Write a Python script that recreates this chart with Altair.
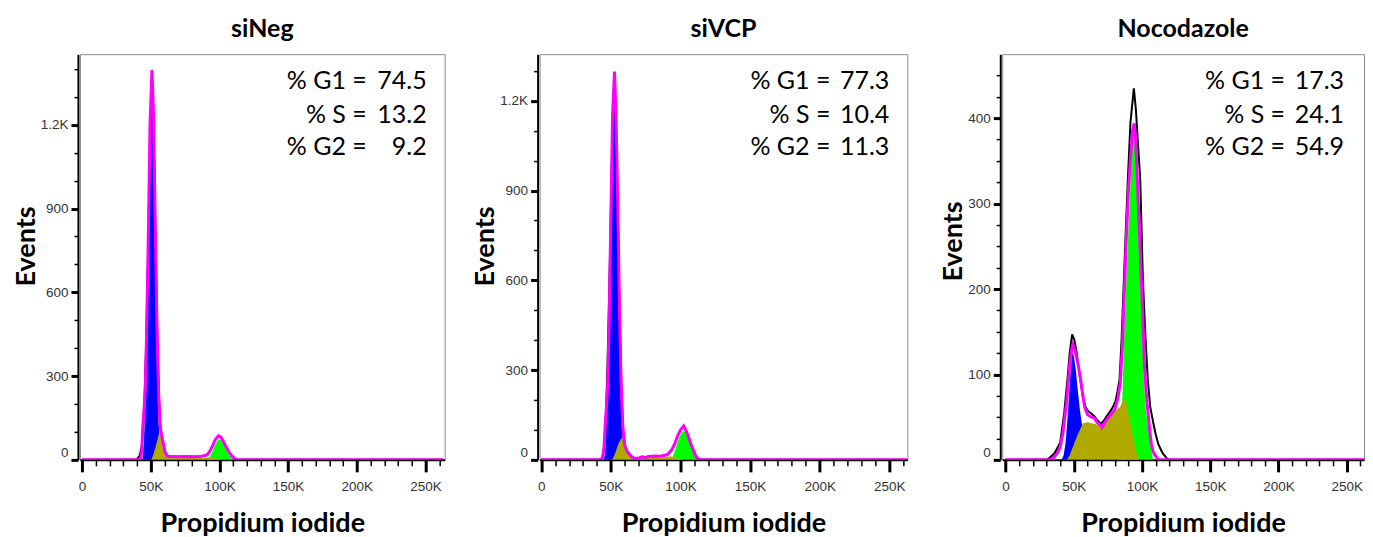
import altair as alt
import pandas as pd

# ---------------- data (x in thousands of PI units, y = events) ----------------
stat_labels = ["% G1 =", "% S =", "% G2 ="]
titles = ["siNeg", "siVCP", "Nocodazole"]

# siNeg
neg_stats = ["74.5", "13.2", "9.2"]
neg_black_x = [0, 39, 40.5, 42, 43.5, 44.5, 45.5, 46.5, 48, 49.5, 50.9, 52.3, 53.5, 54.8, 56, 57, 58, 59.3, 60.5, 62, 63, 66, 70, 75, 80, 85, 88, 91, 93, 95, 97, 99.3, 101, 103, 105, 107, 109, 111, 112.6, 263]
neg_black_y = [0, 0, 5, 15, 50, 120, 220, 380, 700, 1150, 1380, 1150, 800, 450, 230, 125, 88, 58, 28, 16, 13, 12, 11, 12, 11, 12, 14, 18, 30, 50, 72, 86, 82, 65, 45, 28, 14, 5, 0, 0]
neg_mag_x = [0, 42.4, 43.5, 44.1, 45, 46, 47, 48.4, 49.5, 50.9, 52, 53.3, 54.5, 55.7, 56.9, 58, 59.3, 60.5, 62, 63, 66, 70, 75, 80, 85, 88, 91, 93, 95, 97, 99.3, 101, 103, 105, 107, 109, 111, 112.6, 263]
neg_mag_y = [0, 0, 30, 105, 170, 248, 450, 842, 1200, 1396, 1250, 842, 500, 248, 120, 85, 56, 26, 15, 12, 12, 11, 12, 11, 12, 14, 18, 30, 50, 72, 86, 82, 65, 45, 28, 14, 5, 0, 0]
neg_g1_x = [0, 44, 45, 46, 47, 48, 49.2, 50.5, 51.5, 52.5, 53.5, 54.5, 55.5, 56.5, 57.5, 58.5, 263]
neg_g1_y = [0, 0, 60, 180, 380, 700, 1100, 1370, 1300, 1000, 650, 350, 160, 60, 15, 0, 0]
neg_s_x = [0, 50.5, 52, 53.5, 55, 56.2, 57.5, 59, 60.5, 62, 64, 70, 75, 80, 85, 90, 93, 96, 99, 101.7, 263]
neg_s_y = [0, 0, 20, 45, 75, 97, 80, 45, 25, 14, 9, 8, 7, 8, 7, 8, 10, 7, 3, 0, 0]
neg_g2_x = [0, 91, 93, 95, 97, 99.3, 101, 103, 105, 107, 109, 110, 263]
neg_g2_y = [0, 0, 10, 30, 55, 74, 70, 55, 35, 18, 5, 0, 0]

# siVCP
vcp_stats = ["77.3", "10.4", "11.3"]
vcp_black_x = [0, 42.5, 44, 45.5, 46.5, 47.5, 49, 50.5, 52.6, 54.5, 56, 57.5, 58.6, 59.5, 60, 61.5, 62.9, 65, 67.6, 70, 72.4, 75, 77, 79.6, 82, 84.4, 87, 90.3, 92, 93.9, 96, 98, 100, 102.3, 104, 105.9, 107.5, 109.5, 111, 113, 114.5, 263]
vcp_black_y = [0, 0, 10, 60, 160, 300, 600, 950, 1290, 950, 560, 260, 110, 70, 48, 30, 21, 10, 4, 6, 10, 8, 11, 12, 13, 12, 14, 17, 24, 35, 55, 80, 100, 113, 98, 75, 52, 30, 12, 3, 0, 0]
vcp_mag_x = [0, 43.7, 45, 45.8, 46.7, 47.7, 48.7, 50.1, 51.2, 52.6, 53.7, 55, 56.2, 57.4, 58.6, 59.5, 60, 61.5, 62.9, 65, 67.6, 70, 72.4, 75, 77, 79.6, 82, 84.4, 87, 90.3, 92, 93.9, 96, 98, 100, 102.3, 104, 105.9, 107.5, 109.5, 111, 113, 114.5, 263]
vcp_mag_y = [0, 0, 30, 105, 170, 248, 450, 842, 1150, 1298, 1150, 842, 500, 248, 110, 70, 48, 30, 21, 10, 4, 6, 10, 8, 11, 12, 13, 12, 14, 17, 24, 35, 55, 80, 100, 113, 98, 75, 52, 30, 12, 3, 0, 0]
vcp_g1_x = [0, 45, 46, 47, 48, 49, 50.3, 51.8, 52.6, 53.6, 54.7, 55.8, 56.8, 57.8, 58.8, 59.8, 60.5, 263]
vcp_g1_y = [0, 0, 40, 150, 350, 620, 950, 1250, 1285, 1150, 850, 500, 250, 110, 40, 8, 0, 0]
vcp_s_x = [0, 50.9, 52.5, 54, 55.5, 57.6, 59, 60.5, 61.7, 63, 65, 70, 75, 80, 85, 90, 93, 96, 99, 103, 263]
vcp_s_y = [0, 0, 15, 35, 55, 74, 55, 38, 24, 14, 8, 6, 6, 8, 9, 10, 12, 8, 4, 0, 0]
vcp_g2_x = [0, 93, 94, 96, 98, 100, 102.3, 104, 105.9, 107.5, 109.5, 111, 112, 263]
vcp_g2_y = [0, 0, 5, 30, 60, 85, 98, 88, 65, 42, 20, 8, 0, 0]

# Nocodazole
noc_stats = ["17.3", "24.1", "54.9"]
noc_black_x = [0, 30, 32, 36, 40, 43, 45.5, 47, 48.8, 50.5, 52, 54, 56.5, 58.5, 60.5, 63, 65, 67.5, 70, 72, 75, 78, 80.5, 82, 83.5, 85, 86.7, 88, 89.6, 91.5, 94, 95.5, 97, 98.7, 100.6, 102.3, 104.2, 106, 108, 110, 112, 115, 118, 119.5, 263]
noc_black_y = [0, 0, 2, 8, 20, 55, 97, 125, 147, 140, 126, 103, 75, 62, 57, 54, 51, 46, 42, 46, 53, 60, 68, 80, 94, 140, 211, 265, 328, 395, 435, 410, 370, 328, 211, 150, 94, 62, 45, 30, 18, 8, 2, 0, 0]
noc_mag_x = [0, 33, 35, 38, 40, 42, 44.9, 46.9, 48.5, 49.3, 51, 53, 55.4, 57.9, 60, 63, 65.2, 67, 69, 70.8, 72.5, 75, 77.5, 79.9, 82.3, 84, 85.5, 87, 88.5, 90, 91.6, 93, 94.3, 95.5, 97, 98.5, 100, 101.8, 103, 104.2, 105.5, 106.7, 108, 109.2, 111.6, 113, 263]
noc_mag_y = [0, 0, 2, 8, 15, 31, 70, 109, 130, 135, 127, 113, 90, 62, 53, 50, 49, 44, 41, 38, 43, 49, 54, 58.5, 72, 90, 130, 195, 260, 315, 355, 385, 394, 370, 310, 250, 190, 109, 80, 58, 36, 19.5, 10, 6, 1, 0, 0]
noc_g1_x = [0, 41, 42.5, 44, 45, 46.5, 47.5, 48.8, 50, 51.5, 53, 54.5, 55.5, 57, 58.5, 60, 62, 263]
noc_g1_y = [0, 0, 5, 20, 40, 75, 100, 125, 122, 105, 80, 58, 47, 30, 15, 5, 0, 0]
noc_s_x = [0, 45, 47, 49, 51, 53, 55, 56.6, 60, 63, 66, 68, 70, 72, 75, 78, 81, 84, 86.5, 88, 90, 92, 94, 96, 97.5, 263]
noc_s_y = [0, 0, 5, 14, 22, 30, 37, 43, 44, 43, 42, 40, 38, 42, 47, 53, 58, 62, 72, 70, 55, 38, 22, 8, 0, 0]
noc_g2_x = [0, 82, 83.5, 85, 86, 87, 88.5, 90, 91.6, 93, 94.3, 95.5, 97, 98.9, 100, 101.3, 103, 104.8, 106.5, 108, 263]
noc_g2_y = [0, 0, 20, 50, 94, 150, 211, 270, 328, 370, 383, 365, 290, 211, 160, 94, 55, 35, 15, 0, 0]

BLUE = "#0000ff"
GREEN = "#00ff00"
OLIVE = "#b0aa00"
MAGENTA = "#ff00ff"
FONT = "Lato"


def df(xs, ys):
    return pd.DataFrame({"x": xs, "v": ys})


def panel(title, curves, stats, xdom, ydom, width, height, ymajor, ystep, ytop,
          lab_x, val_x, title_y):
    xvals = list(range(0, 261, 10))
    yvals = list(range(0, ytop + 1, ystep))
    xaxis = alt.Axis(
        title="Propidium iodide", values=xvals,
        labelExpr="datum.value % 50 === 0 ? (datum.value === 0 ? '0' : datum.value + 'K') : ''",
        tickSize={"condition": {"test": "datum.value % 50 === 0", "value": 12}, "value": 6},
        tickWidth={"condition": {"test": "datum.value % 50 === 0", "value": 3}, "value": 1.5},
        labelFlush=False, labelOverlap=False, labelPadding=8, titlePadding=17,
        grid=False,
    )
    yaxis = alt.Axis(
        title="Events", values=yvals,
        labelExpr=("datum.value % " + str(ymajor) + " === 0 ? (datum.value >= 1000 ? "
                   "format(datum.value / 1000, '.1f') + 'K' : '' + datum.value) : ''"),
        tickSize={"condition": {"test": "datum.value % " + str(ymajor) + " === 0", "value": 7}, "value": 4},
        tickWidth={"condition": {"test": "datum.value % " + str(ymajor) + " === 0", "value": 3}, "value": 1.5},
        offset=2, labelFlush=True, labelOverlap=False, labelPadding=3, titlePadding=0,
        titleY=title_y, grid=False,
    )
    xs = alt.Scale(domain=xdom, nice=False, zero=False)
    ys = alt.Scale(domain=ydom, nice=False, zero=False)
    enc = dict(x=alt.X("x:Q", scale=xs, axis=xaxis), y=alt.Y("v:Q", scale=ys, axis=yaxis))

    g1, g2, s, black, mag = curves
    layers = [
        alt.Chart(df(*g1)).mark_area(color=BLUE, interpolate="linear", clip=True).encode(**enc),
        alt.Chart(df(*g2)).mark_area(color=GREEN, interpolate="linear", clip=True).encode(**enc),
        alt.Chart(df(*s)).mark_area(color=OLIVE, interpolate="linear", clip=True).encode(**enc),
        alt.Chart(df(*black)).mark_line(color="black", strokeWidth=2, interpolate="linear", clip=True).encode(**enc),
        alt.Chart(df(*mag)).mark_line(color=MAGENTA, strokeWidth=3, interpolate="linear", clip=True).encode(**enc),
    ]
    row_y = [27, 60.5, 93]
    for i, (lab, val) in enumerate(zip(stat_labels, stats)):
        layers.append(
            alt.Chart(pd.DataFrame({"t": [lab]})).mark_text(
                align="right", baseline="middle", font=FONT, fontSize=25, color="black"
            ).encode(text="t:N", x=alt.value(lab_x), y=alt.value(row_y[i]))
        )
        layers.append(
            alt.Chart(pd.DataFrame({"t": [val]})).mark_text(
                align="right", baseline="middle", font=FONT, fontSize=25, color="black"
            ).encode(text="t:N", x=alt.value(val_x), y=alt.value(row_y[i]))
        )
    return alt.layer(*layers).properties(
        width=width, height=height,
        title=alt.TitleParams(text=title, font=FONT, fontSize=25, fontWeight="bold",
                              color="black", anchor="middle", offset=12),
    )


p1 = panel(titles[0],
           [(neg_g1_x, neg_g1_y), (neg_g2_x, neg_g2_y), (neg_s_x, neg_s_y),
            (neg_black_x, neg_black_y), (neg_mag_x, neg_mag_y)],
           neg_stats, [-1.5, 264], [0, 1453], 365, 406, 300, 100, 1400, 287, 347, 192)
p2 = panel(titles[1],
           [(vcp_g1_x, vcp_g1_y), (vcp_g2_x, vcp_g2_y), (vcp_s_x, vcp_s_y),
            (vcp_black_x, vcp_black_y), (vcp_mag_x, vcp_mag_y)],
           vcp_stats, [-1.2, 263], [0, 1356], 368, 406, 300, 100, 1300, 291, 350, 192)
p3 = panel(titles[2],
           [(noc_g1_x, noc_g1_y), (noc_g2_x, noc_g2_y), (noc_s_x, noc_s_y),
            (noc_black_x, noc_black_y), (noc_mag_x, noc_mag_y)],
           noc_stats, [-2.4, 262.6], [0, 475], 362, 406, 100, 25, 450, 283, 342, 187)

chart = alt.hconcat(p1, p2, p3, spacing=95, bounds="flush").properties(
    padding={"left": 3, "top": 8, "right": 0, "bottom": 0}
).configure_view(
    stroke="#8c8c8c", strokeWidth=1
).configure_axis(
    domainColor="black", domainWidth=2, tickColor="black",
    labelFont="Liberation Sans", labelFontSize=13.5, labelColor="#333333",
    titleFont=FONT, titleFontSize=27, titleFontWeight="bold", titleColor="black",
)

chart.save("out.html", embed_options={"renderer": "svg", "actions": False})
